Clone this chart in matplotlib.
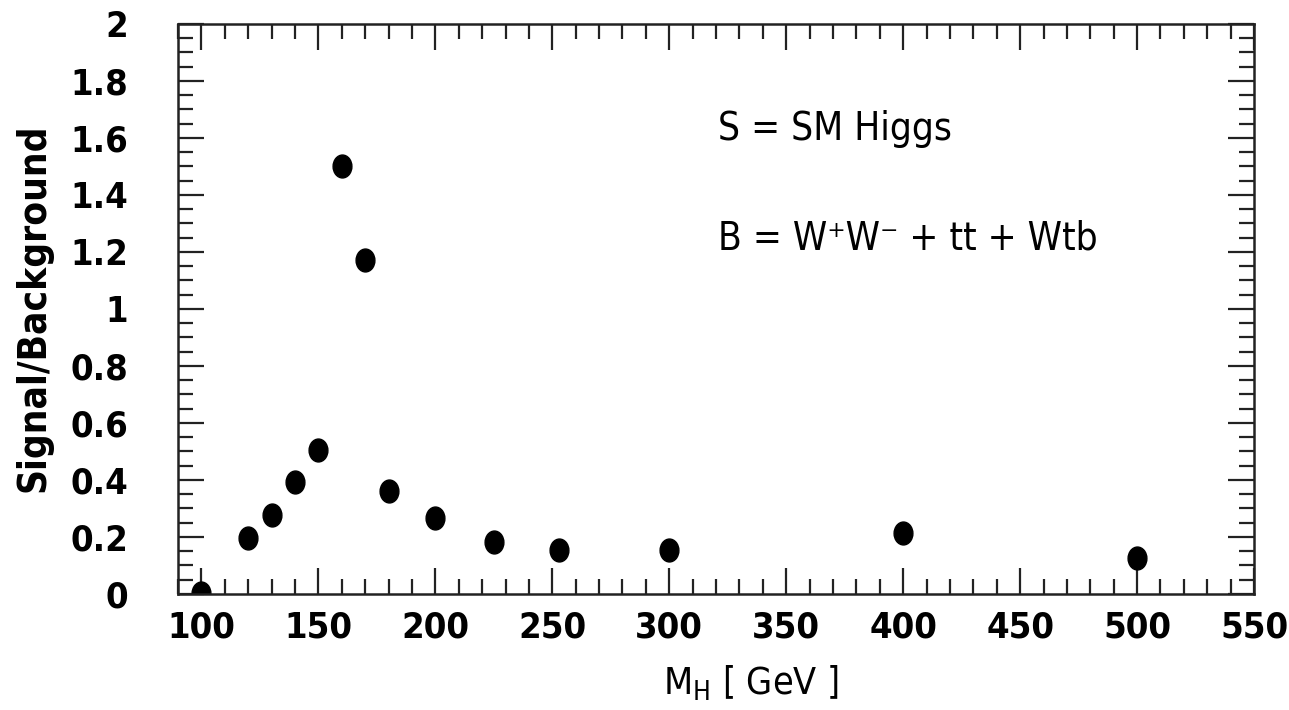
import matplotlib
matplotlib.use("Agg")
import matplotlib.pyplot as plt
from matplotlib import font_manager
from matplotlib.markers import MarkerStyle
from matplotlib.ticker import MultipleLocator, FuncFormatter
from matplotlib.transforms import Affine2D

# Higgs mass points [GeV] and signal/background ratio
mass = [100, 120, 130, 140, 150, 160, 170, 180, 200, 225, 253, 300, 400, 500]
ratio = [0.005, 0.195, 0.277, 0.394, 0.505, 1.502, 1.172, 0.362, 0.266, 0.184, 0.154, 0.154, 0.215, 0.125]

x_ticks = [100, 150, 200, 250, 300, 350, 400, 450, 500, 550]

# the original uses Helvetica Narrow, take the closest narrow sans we have
fonts = [(f.name, str(f.stretch)) for f in font_manager.fontManager.ttflist]
if any(n == "Liberation Sans Narrow" for n, s in fonts):
	family, stretch, scale = "Liberation Sans Narrow", "normal", 1.0
elif ("DejaVu Sans", "condensed") in fonts:
	family, stretch, scale = "DejaVu Sans", "condensed", 0.87
else:
	family, stretch, scale = "Liberation Sans", "normal", 0.82

plt.rcParams["font.family"] = [family, "DejaVu Sans"]
plt.rcParams["font.stretch"] = stretch
plt.rcParams["mathtext.default"] = "regular"

fig = plt.figure(figsize=(12.89, 7.10), dpi=100)
ax = fig.add_axes([0.1381, 0.1634, 0.9729 - 0.1381, 0.9662 - 0.1634])

# dots are a little taller than wide in the original
dot = MarkerStyle("o", transform=Affine2D().scale(0.82, 1.0))
ax.plot(mass, ratio, linestyle="none", marker=dot, markersize=16.5, color="black", clip_on=True)

ax.set_xlim(90, 550)
ax.set_ylim(0, 2)
ax.set_xticks(x_ticks)
ax.xaxis.set_minor_locator(MultipleLocator(10))
ax.yaxis.set_major_locator(MultipleLocator(0.2))
ax.yaxis.set_minor_locator(MultipleLocator(0.05))
ax.yaxis.set_major_formatter(FuncFormatter(lambda v, p: f"{v:.1f}".rstrip("0").rstrip(".")))

ax.tick_params(which="both", direction="in", top=True, right=True, width=1.6, color="#222222")
ax.tick_params(which="major", length=18.5)
ax.tick_params(which="minor", length=10.5)
ax.tick_params(axis="x", which="major", pad=12)
ax.tick_params(axis="y", which="major", pad=36)
for lbl in ax.get_xticklabels() + ax.get_yticklabels():
	lbl.set_fontsize(30 * scale)
	lbl.set_fontweight("bold")

for side in ["top", "bottom", "left", "right"]:
	ax.spines[side].set_linewidth(1.8)
	ax.spines[side].set_color("#222222")

ax.set_ylabel("Signal/Background", fontsize=32 * scale, fontweight="bold")
ax.yaxis.set_label_coords(-0.117, 0.503)
ax.set_xlabel("M$_{H}$ [ GeV ]", fontsize=31 * scale)
ax.xaxis.set_label_coords(0.532, -0.122)

ax.text(0.502, 0.796, "S = SM Higgs", transform=ax.transAxes, fontsize=32 * scale)
ax.text(0.502, 0.604, "B = W\u207aW\u207b + tt + Wtb", transform=ax.transAxes, fontsize=32 * scale)

fig.savefig("out.png", dpi=100)
